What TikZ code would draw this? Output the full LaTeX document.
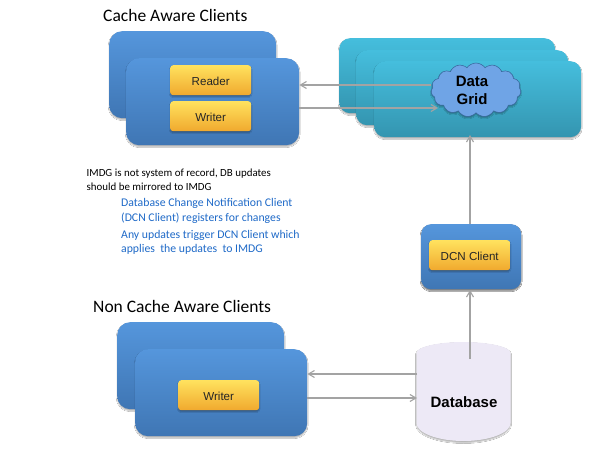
\documentclass[tikz,border=0pt]{standalone}
\usepackage{fontspec}
\setmainfont{Liberation Sans}
\newfontfamily\carlitofont{Carlito}
\usetikzlibrary{shapes.symbols,arrows.meta,shadows.blur}
\definecolor{bluetop}{HTML}{5596DC}
\definecolor{bluebot}{HTML}{3F76B4}
\definecolor{tealtop}{HTML}{45BEDD}
\definecolor{tealbot}{HTML}{3495B0}
\definecolor{yeltop}{HTML}{FFE25E}
\definecolor{yelmid}{HTML}{FDC845}
\definecolor{yelbot}{HTML}{F0A92E}
\definecolor{flow}{HTML}{A3A3A3}
\definecolor{note}{HTML}{1F6AC8}
\definecolor{dbfill}{HTML}{EDE9F6}
\definecolor{cloudfill}{HTML}{6FA4E6}
\tikzset{
  soft/.style={blur shadow={shadow xshift=0pt,shadow yshift=-1.5pt,shadow blur steps=4,shadow blur radius=1pt,shadow opacity=30}},
  panel/.style={anchor=north west,inner sep=0pt,rounded corners=#1,soft},
  bluebox/.style={panel=13pt,top color=bluetop,bottom color=bluebot},
  tealbox/.style={panel=11pt,top color=tealtop,bottom color=tealbot},
  yelbox/.style={anchor=north west,inner sep=0pt,rounded corners=3pt,soft,top color=yeltop,middle color=yelmid,bottom color=yelbot,
     minimum width=81pt,minimum height=30pt,text height=11pt,text depth=0pt,font=\fontsize{11.6}{13}\selectfont,text=black!85},
  flowline/.style={draw=flow,line width=1.2pt,-{Straight Barb[length=6pt,width=7pt,line width=1.1pt]}},
  heading/.style={anchor=west,inner sep=0pt,font=\carlitofont\fontsize{17.5}{20}\selectfont,text=black},
  bodytext/.style={anchor=north west,inner sep=0pt,align=left,font=\carlitofont\fontsize{10.9}{14.3}\selectfont},
  bluetext/.style={anchor=north west,inner sep=0pt,align=left,text=note,font=\carlitofont\fontsize{11.75}{14.5}\selectfont},
}
\begin{document}
\begin{tikzpicture}[x=1pt,y=-1pt]
\useasboundingbox[fill=white] (0,0) rectangle (610,449);

\node[tealbox,minimum width=216pt,minimum height=75pt] (g1) at (339,38) {};
\node[tealbox,minimum width=212pt,minimum height=75pt] (g2) at (356,50) {};
\node[tealbox,minimum width=207pt,minimum height=76pt] (g3) at (374,61) {};

\node[bluebox,minimum width=167pt,minimum height=87pt] (c1) at (109,31) {};
\node[bluebox,minimum width=173pt,minimum height=87pt] (c2) at (126,58) {};
\node[yelbox] (reader) at (170,65) {Reader};
\node[yelbox] (writer) at (170,101) {Writer};

\node[bluebox,minimum width=167pt,minimum height=87pt] (n1) at (117,322) {};
\node[bluebox,minimum width=172pt,minimum height=87pt] (n2) at (135,349) {};
\node[yelbox] (nwriter) at (178,380) {Writer};

\node[bluebox,panel=10pt,minimum width=100pt,minimum height=65pt] (dcnbox) at (421,224) {};
\node[yelbox] (dcn) at (429,240) {DCN Client};

% database cylinder
\path[fill=dbfill,soft] (416.5,353) arc[start angle=180,end angle=360,x radius=47,y radius=11]
   -- (510.5,423) arc[start angle=0,end angle=-180,x radius=47,y radius=-18] -- cycle;
\node[font=\bfseries\fontsize{15}{17}\selectfont,inner sep=0pt] (db) at (464,402) {Database};

\node[cloud,cloud puffs=15,cloud puff arc=110,aspect=1.6,fill=cloudfill,draw=bluebot!85!black,line width=.5pt,soft,
  minimum width=90pt,minimum height=54pt,inner sep=0pt] (cloudn) at (476,90) {};
\node[align=center,font=\bfseries\fontsize{15}{18}\selectfont] (cloudl) at (472,90) {Data\\Grid};

\coordinate (c2a) at (c2.east |- 0,85);
\coordinate (cla) at (431,85);
\coordinate (c2b) at (c2.east |- 0,108);
\coordinate (clb) at (438,108);
\coordinate (n2a) at (n2.east |- 0,374);
\coordinate (dba) at (417,374);
\coordinate (n2b) at (n2.east |- 0,398);
\coordinate (dbb) at (417,398);
\coordinate (dbt) at (470,359);
\coordinate (dcnb) at (470,290);
\coordinate (dcnt) at (470,224);
\coordinate (g3b) at (470,135);

\draw[flowline] (cla) -- (c2a);
\draw[flowline] (c2b) -- (clb);
\draw[flowline] (dcnt) -- (g3b);
\draw[flowline] (dbt) -- (dcnb);
\draw[flowline] (dba) -- (n2a);
\draw[flowline] (n2b) -- (dbb);

\node[heading] (h1) at (103,15) {Cache Aware Clients};
\node[heading] (h2) at (93,306) {Non Cache Aware Clients};
\node[bodytext,text=black] (t1) at (86.5,168.5) {IMDG is not system of record, DB updates\\should be mirrored to IMDG};
\node[bluetext] (t2) at (121,198.5) {Database Change Notification Client\\(DCN Client) registers for changes};
\node[bluetext] (t3) at (121,230) {Any updates trigger DCN Client which\\applies\ \ the updates\ \ to IMDG};
\end{tikzpicture}
\end{document}
